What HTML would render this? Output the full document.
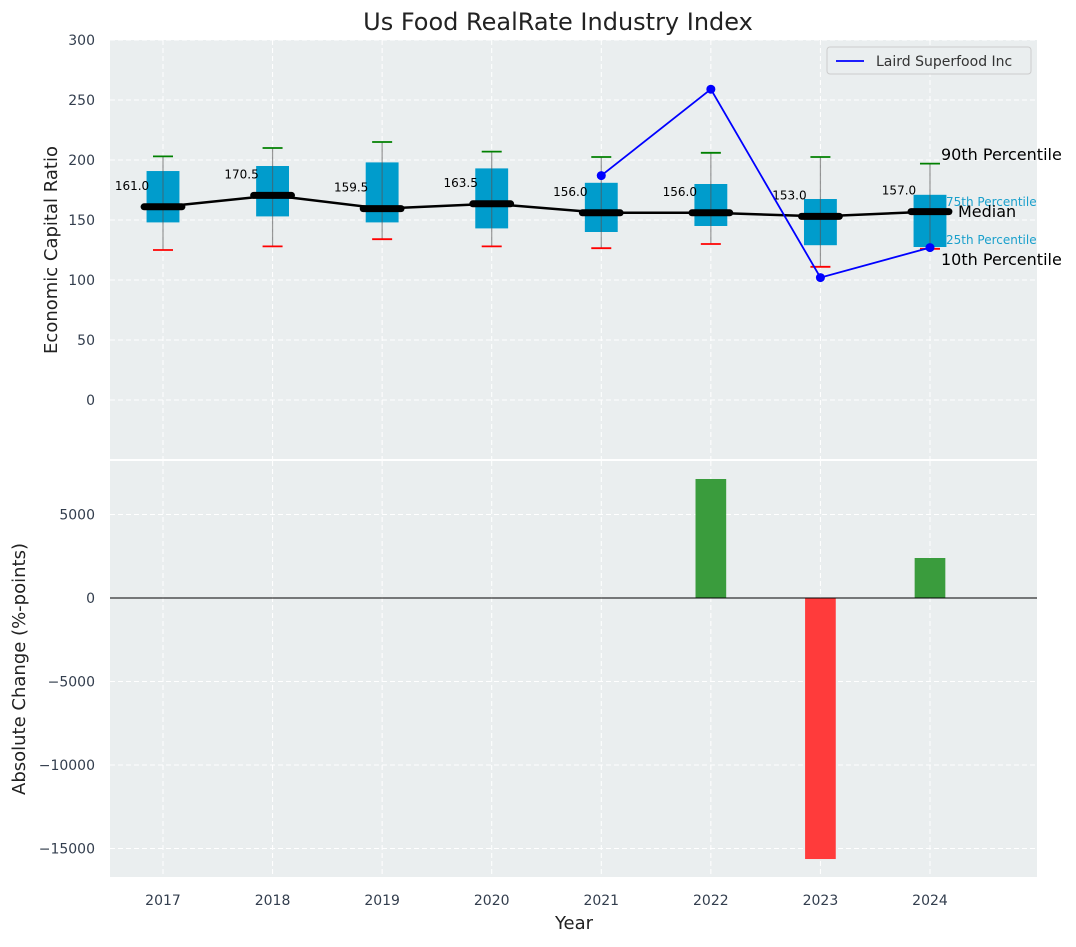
<!DOCTYPE html>
<html><head><meta charset="utf-8"><style>
body{margin:0;background:#fff;font-family:"Liberation Sans","DejaVu Sans",sans-serif}
</style></head><body>
<svg id="c" width="1076" height="942" xmlns="http://www.w3.org/2000/svg" font-family="DejaVu Sans, Liberation Sans, sans-serif"></svg>
<script>
const years=[2017,2018,2019,2020,2021,2022,2023,2024];
const p10=[125,128,134,128,126.5,130,111,126];
const p25=[148,153,148,143,140,145,129,127.5];
const med=[161,170.5,159.5,163.5,156,156,153,157];
const p75=[190.8,195,198,193,181,180,167.5,171];
const p90=[203,210,215,207,202.5,206,202.5,197];
const lairdYears=[2021,2022,2023,2024];
const lairdVals=[187,259,102,127];
const changeYears=[2022,2023,2024];
const changeVals=[7126,-15630,2395];
const yTicksTop=[0,50,100,150,200,250,300];
const yTicksBot=[-15000,-10000,-5000,0,5000];

const S=document.getElementById('c');const NS='http://www.w3.org/2000/svg';
function el(t,a,p){const e=document.createElementNS(NS,t);for(const k in a)e.setAttribute(k,a[k]);(p||S).appendChild(e);return e;}
const L=110,R=1037;
const X=v=>163+(v-2017)*109.57;
const Y1=v=>400-v*1.2;
const Y2=v=>598-v*0.0167;
const fmt=v=>v<0?'\u2212'+Math.abs(v):String(v);
let b1=el('rect',{x:L,y:40,width:R-L,height:419,fill:'#eaeeef'});

let b2=el('rect',{x:L,y:461,width:R-L,height:416,fill:'#eaeeef'});

years.forEach(y=>{[[40,459],[461,877]].forEach(r=>{let g=el('line',{x1:X(y),x2:X(y),y1:r[0],y2:r[1],stroke:'#fff','stroke-dasharray':'5,3','stroke-width':1});});
 let t=el('text',{x:X(y),y:905,'text-anchor':'middle','font-size':14,fill:'#333e4e'});t.textContent=y;});
yTicksTop.forEach(v=>{let g=el('line',{x1:L,x2:R,y1:Y1(v),y2:Y1(v),stroke:'#fff','stroke-dasharray':'5,3'});
 let t=el('text',{x:95,y:Y1(v)+5,'text-anchor':'end','font-size':14,fill:'#333e4e'});t.textContent=fmt(v);});
yTicksBot.forEach(v=>{let g=el('line',{x1:L,x2:R,y1:Y2(v),y2:Y2(v),stroke:'#fff','stroke-dasharray':'5,3'});
 let t=el('text',{x:95,y:Y2(v)+5,'text-anchor':'end','font-size':14,fill:'#333e4e'});t.textContent=fmt(v);});
const bw=109.57*0.3;const mw=109.57*0.4;
years.forEach((y,i)=>{const x=X(y);
 let r=el('rect',{x:x-bw/2,y:Y1(p75[i]),width:bw,height:Y1(p25[i])-Y1(p75[i]),fill:'#009ccc'});
 let w=el('line',{x1:x,x2:x,y1:Y1(p90[i]),y2:Y1(p10[i]),stroke:'#555','stroke-opacity':0.6,'stroke-width':1.2});
 let h=el('line',{x1:x-10,x2:x+10,y1:Y1(p90[i]),y2:Y1(p90[i]),stroke:'green','stroke-width':1.8});
 let lo=el('line',{x1:x-10,x2:x+10,y1:Y1(p10[i]),y2:Y1(p10[i]),stroke:'red','stroke-width':1.8});
});
let ml=el('polyline',{points:years.map((y,i)=>X(y)+','+Y1(med[i])).join(' '),fill:'none',stroke:'#000','stroke-width':2.5});

years.forEach((y,i)=>{const x=X(y);
 let m=el('line',{x1:x-mw/2+3,x2:x+mw/2-3,y1:Y1(med[i]),y2:Y1(med[i]),stroke:'#000','stroke-width':7,'stroke-linecap':'round'});
 let t=el('text',{x:x-31,y:Y1(med[i])-17,'text-anchor':'middle','font-size':12,fill:'#000'});t.textContent=med[i].toFixed(1);});
let lp=el('polyline',{points:lairdYears.map((y,i)=>X(y)+','+Y1(lairdVals[i])).join(' '),fill:'none',stroke:'blue','stroke-width':1.8});

lairdYears.forEach((y,i)=>{let c=el('circle',{cx:X(y),cy:Y1(lairdVals[i]),r:4.5,fill:'blue'});});
const ann=[['90th Percentile',941,160,16,'#000'],['75th Percentile',946,206,12,'#1aa0cc'],['Median',958,217,16,'#000'],['25th Percentile',946,244,12,'#1aa0cc'],['10th Percentile',941,265,16,'#000']];
ann.forEach(a=>{let t=el('text',{x:a[1],y:a[2],'font-size':a[3],fill:a[4]});t.textContent=a[0];});
let lg=el('g',{});
el('rect',{x:827,y:47,width:204,height:27,rx:3,fill:'#eaeeef',stroke:'#ccc'},lg);
el('line',{x1:836,x2:864,y1:61,y2:61,stroke:'blue','stroke-width':1.8},lg);
let lt=el('text',{x:876,y:66,'font-size':14,fill:'#333'},lg);lt.textContent='Laird Superfood Inc';
const barW=109.57*0.28;
changeYears.forEach((y,i)=>{const v=changeVals[i];let r=el('rect',{x:X(y)-barW/2,y:Math.min(Y2(v),Y2(0)),width:barW,height:Math.abs(Y2(v)-Y2(0)),fill:v>=0?'#3a9c3d':'#ff3b3b'});});
let z=el('line',{x1:L,x2:R,y1:Y2(0),y2:Y2(0),stroke:'#000','stroke-width':1});
let tt=el('text',{x:558,y:30,'text-anchor':'middle','font-size':24,fill:'#222'});tt.textContent='Us Food RealRate Industry Index';
let yt=el('text',{x:0,y:0,'text-anchor':'middle','font-size':18,fill:'#222',transform:'translate(57,250) rotate(-90)'});yt.textContent='Economic Capital Ratio';
let yb=el('text',{x:0,y:0,'text-anchor':'middle','font-size':18,fill:'#222',transform:'translate(25,669) rotate(-90)'});yb.textContent='Absolute Change (%-points)';
let xt=el('text',{x:574,y:929,'text-anchor':'middle','font-size':18,fill:'#222'});xt.textContent='Year';
</script>
</body></html>
